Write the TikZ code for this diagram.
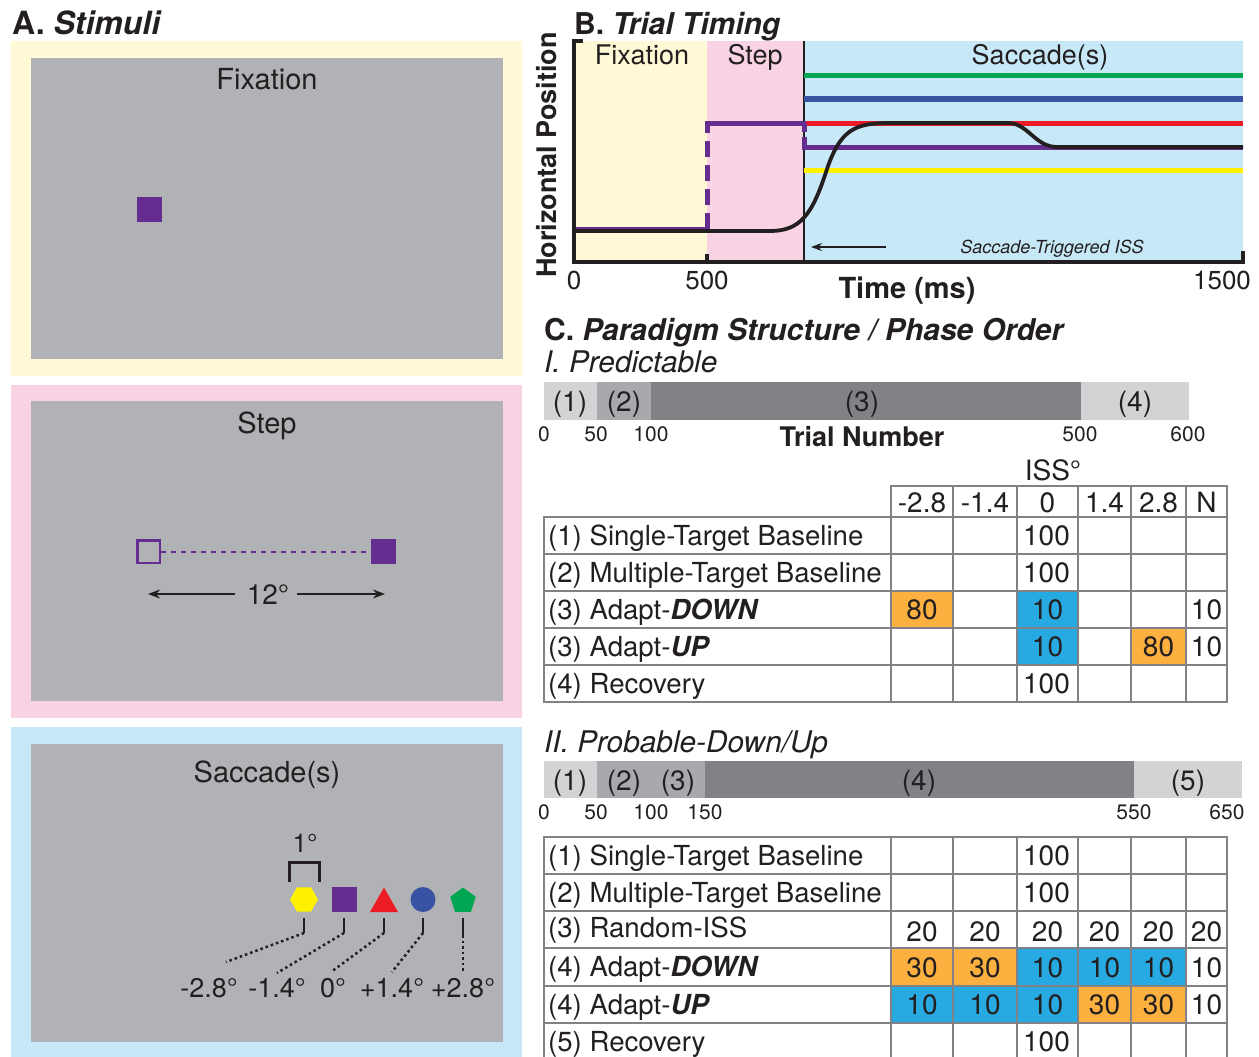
\documentclass[tikz,border=0pt]{standalone}
\usepackage{fontspec}
\setmainfont{TeX Gyre Heros}
\usetikzlibrary{arrows.meta}
\newcommand\fs[1]{\fontsize{#1}{#1}\selectfont}
\definecolor{ink}{HTML}{231F20}
\definecolor{ybg}{HTML}{FFF9D5}
\definecolor{pbg}{HTML}{F9D3E3}
\definecolor{bbg}{HTML}{C7E8F7}
\definecolor{scr}{HTML}{B1B2B5}
\definecolor{purp}{HTML}{662D91}
\definecolor{sred}{HTML}{ED1C24}
\definecolor{sblue}{HTML}{3953A4}
\definecolor{sgreen}{HTML}{00A651}
\definecolor{syel}{HTML}{FFF200}
\definecolor{barL}{HTML}{D1D3D4}
\definecolor{barM}{HTML}{A7A9AC}
\definecolor{barD}{HTML}{808285}
\definecolor{gridc}{HTML}{808285}
\definecolor{corange}{HTML}{FBB040}
\definecolor{cblue}{HTML}{27AAE1}
\begin{document}
\begin{tikzpicture}[x=1pt,y=-1pt,
  T/.style 2 args={font=\fs{#1},text height=#2pt,text depth=0pt,inner sep=0pt,text=ink},
  t18/.style={T={18}{13}},
  t21/.style={T={21}{15.1}},
  t26/.style={T={26}{18.7}},
  t27/.style={T={27}{19.4}},
  trow/.style={T={27.6}{19.9}},
  t28/.style={T={28}{20.2}},
  t29/.style={T={29}{20.9}},
  t30/.style={T={30}{21.6}},
  t32/.style={T={32}{23}},
  gridl/.style={gridc,line width=2.5pt,line cap=rect},
  dotl/.style={ink,line width=2.5pt,dash pattern=on 2.5pt off 3pt},
  tick/.style={ink,line width=2.5pt},
  sq/.style={fill=purp,minimum size=25pt,inner sep=0pt,draw=none},
  arr/.style={-{Stealth[length=12pt,width=9pt]},ink,line width=2pt},
  pline/.style={line width=5pt}
]
\useasboundingbox (0,0) rectangle (1259,1057);
\fill[white] (0,0) rectangle (1259,1057);

%% ---------------- Panel A ----------------
\node[t32,anchor=west] (titleA) at (12,23) {\bfseries A. \itshape Stimuli};
% Fixation
\fill[ybg] (11,41) rectangle (522,376);
\fill[scr] (31,58) rectangle (503,359);
\node[t29] (fixA) at (267,79) {Fixation};
\node[sq] (fixsq) at (149.5,209.5) {};
% Step
\fill[pbg] (11,385) rectangle (522,718);
\fill[scr] (31,401) rectangle (503,701);
\node[t29] (stepA) at (267,423) {Step};
\node[draw=purp,line width=2.5pt,minimum size=22.5pt,inner sep=0pt] (opensq) at (148.5,551.5) {};
\node[sq] (stepsq) at (383.5,551.5) {};
\draw[purp,line width=2pt,dash pattern=on 5pt off 5pt] (opensq.east) -- (stepsq.west);
\node[t28] (deg12) at (268,594) {12°};
\coordinate (larr) at (148,594);
\coordinate (rarr) at (385,594);
\draw[arr] ([xshift=-12pt]deg12.west) -- (larr);
\draw[arr] ([xshift=8pt]deg12.east) -- (rarr);
% Saccade(s)
\fill[bbg] (11,727) rectangle (522,1062);
\fill[scr] (31,744) rectangle (503,1042);
\node[t29] (sacA) at (267,772) {Saccade(s)};
\node[t26] (onedeg) at (305,843) {1°};
\draw[ink,line width=3pt] (289.5,882) -- (289.5,862) -- (319.5,862) -- (319.5,882);
% shapes
\fill[syel] (290,899.5) -- (297,887.4) -- (311,887.4) -- (318,899.5) -- (311,911.6) -- (297,911.6) -- cycle;
\node[sq] (sq0) at (344.5,899.5) {};
\fill[sred] (370,912) -- (398,912) -- (384,887.5) -- cycle;
\fill[sblue] (423,899.5) circle (12.5);
\fill[sgreen] (463,887.5) -- (475.8,896.8) -- (470.9,911.9) -- (455.1,911.9) -- (450.2,896.8) -- cycle;
% ticks and dotted leaders
\draw[tick] (304,918) -- (304,933);
\draw[dotl] (304,933) -- (226,962);
\draw[tick] (344,918) -- (344,933);
\draw[dotl] (344,933) -- (277,973);
\draw[tick] (384,918) -- (384,933);
\draw[dotl] (384,933) -- (331,972);
\draw[tick] (423,918) -- (423,933);
\draw[dotl] (423,933) -- (392,972);
\draw[tick] (463,918) -- (463,935);
\draw[dotl] (463,935) -- (463,972);
\node[t27] (lm28) at (209,988) {-2.8°};
\node[t27] (lm14) at (277,988) {-1.4°};
\node[t27] (l0) at (333,988) {0°};
\node[t27] (lp14) at (392,988) {+1.4°};
\node[t27] (lp28) at (463,988) {+2.8°};

%% ---------------- Panel B ----------------
\node[t30,anchor=west] (titleB) at (574,24) {\bfseries B. \itshape Trial Timing};
\fill[ybg] (574,41) rectangle (707,262);
\fill[pbg] (707,41) rectangle (804,262);
\fill[bbg] (804,41) rectangle (1243,262);
\node[t27] (bfix) at (642,55) {Fixation};
\node[t27] (bstep) at (755,55) {Step};
\node[t27] (bsac) at (1040,55) {Saccade(s)};
\draw[ink,line width=2pt] (804,41) -- (804,262);
\draw[sgreen,pline] (804,76) -- (1243,76);
\draw[sblue,pline] (804,99) -- (1243,99);
\draw[sred,pline] (806,123) -- (1243,123);
\draw[syel,pline] (804,170) -- (1243,170);
\draw[purp,pline] (574,229) -- (707,229);
\draw[purp,pline,dash pattern=on 16pt off 8pt] (707,229) -- (707,123);
\draw[purp,pline] (704.5,123) -- (806,123);
\draw[purp,pline,dash pattern=on 9pt off 5pt] (804,123) -- (804,147);
\draw[purp,pline] (801.5,147) -- (1243,147);
\draw[ink,line width=3.8pt] (574,231) -- (770,231) .. controls (800,231) and (812,215) .. (826,172)
  .. controls (840,129) and (855,123) .. (890,123) -- (1008,123)
  .. controls (1028,123) and (1035,147) .. (1057,147) -- (1243,147);
\draw[ink,line width=3.5pt] (583,41) -- (574,41) -- (574,262) -- (1243,262) -- (1243,251);
\draw[ink,line width=3.5pt] (707,262) -- (707,254);
\node[t18] (sti) at (1052,247) {\itshape Saccade-Triggered ISS};
\coordinate (arrS) at (886,247);
\coordinate (arrE) at (811,247);
\draw[-{Stealth[length=11pt,width=8pt]},ink,line width=2pt] (arrS) -- (arrE);
\node[t26] (bx0) at (574,280) {0};
\node[t26] (bx500) at (707,280) {500};
\node[t26] (bx1500) at (1222,280) {1500};
\node[t29] (btime) at (907,288) {\bfseries Time (ms)};
\node[t27,rotate=90] (bypos) at (547,155) {\bfseries Horizontal Position};

%% ---------------- Panel C ----------------
\node[t30,anchor=west] (titleC) at (544,330) {\bfseries C. \itshape Paradigm Structure / Phase Order};
\node[T={29.8}{21.5},anchor=west] (predI) at (544,362) {\itshape I. Predictable};
% bar I
\fill[barL] (544,382) rectangle (597,420);
\fill[barM] (597,382) rectangle (651,420);
\fill[barD] (651,382) rectangle (1081,420);
\fill[barL] (1081,382) rectangle (1189,420);
\node[t28] (bi1) at (570,401) {(1)};
\node[t28] (bi2) at (624,401) {(2)};
\node[t28] (bi3) at (862,401) {(3)};
\node[t28] (bi4) at (1135,401) {(4)};
\node[t21] (ti0) at (544,434) {0};
\node[t21] (ti50) at (596,434) {50};
\node[t21] (ti100) at (651,434) {100};
\node[t21] (ti500) at (1080,434) {500};
\node[t21] (ti600) at (1188,434) {600};
\node[t27] (trialn) at (862,437) {\bfseries Trial Number};
\node[t28] (iss) at (1053,470) {ISS°};
% table I fills
\fill[corange] (891,591) rectangle (953,628);
\fill[cblue] (1017,591) rectangle (1078,628);
\fill[cblue] (1017,628) rectangle (1078,665);
\fill[corange] (1131,628) rectangle (1186,665);
% table I grid
\draw[gridl] (891,486) -- (1227,486);
\foreach \yy in {517,554,591,628,665,702} \draw[gridl] (544,\yy) -- (1227,\yy);
\foreach \xx in {891,953,1017,1078,1131,1186,1227} \draw[gridl] (\xx,486) -- (\xx,702);
\draw[gridl] (544,517) -- (544,702);
% header
\node[t28] (h1) at (922,502) {-2.8};
\node[t28] (h2) at (985,502) {-1.4};
\node[t28] (h3) at (1047.5,502) {0};
\node[t28] (h4) at (1104.5,502) {1.4};
\node[t28] (h5) at (1158.5,502) {2.8};
\node[t28] (h6) at (1206.5,502) {N};
% rows
\node[trow,anchor=west] (r1) at (548,535.5) {(1) Single-Target Baseline};
\node[trow,anchor=west] (r2) at (548,572.5) {(2) Multiple-Target Baseline};
\node[trow,anchor=west] (r3) at (548,609.5) {(3) Adapt-\textbf{\textit{DOWN}}};
\node[trow,anchor=west] (r4) at (548,646.5) {(3) Adapt-\textbf{\textit{UP}}};
\node[trow,anchor=west] (r5) at (548,683.5) {(4) Recovery};
\node[t28] (v13) at (1046.5,535.5) {100};
\node[t28] (v23) at (1046.5,572.5) {100};
\node[t28] (v31) at (922,609.5) {80};
\node[t28] (v33) at (1047.5,609.5) {10};
\node[t28] (v36) at (1206.5,609.5) {10};
\node[t28] (v43) at (1047.5,646.5) {10};
\node[t28] (v45) at (1158.5,646.5) {80};
\node[t28] (v46) at (1206.5,646.5) {10};
\node[t28] (v53) at (1046.5,683.5) {100};

% part II
\node[T={29.8}{21.5},anchor=west] (probII) at (544,742) {\itshape II. Probable-Down/Up};
\fill[barL] (544,761) rectangle (597,798);
\fill[barM] (597,761) rectangle (651,798);
\fill[barM] (651,761) rectangle (705,798);
\fill[barD] (705,761) rectangle (1134,798);
\fill[barL] (1134,761) rectangle (1242,798);
\node[t28] (bj1) at (570,780) {(1)};
\node[t28] (bj2) at (624,780) {(2)};
\node[t28] (bj3) at (678,780) {(3)};
\node[t28] (bj4) at (919,780) {(4)};
\node[t28] (bj5) at (1188,780) {(5)};
\node[t21] (tj0) at (544,812) {0};
\node[t21] (tj50) at (596,812) {50};
\node[t21] (tj100) at (651,812) {100};
\node[t21] (tj150) at (705,812) {150};
\node[t21] (tj550) at (1134,812) {550};
\node[t21] (tj650) at (1227,812) {650};
% table II fills
\fill[corange] (891,948) rectangle (953,986);
\fill[corange] (953,948) rectangle (1017,986);
\fill[cblue] (1017,948) rectangle (1186,986);
\fill[cblue] (891,986) rectangle (1078,1023);
\fill[corange] (1078,986) rectangle (1186,1023);
% table II grid
\foreach \yy in {837,874,911,948,986,1023} \draw[gridl] (544,\yy) -- (1227,\yy);
\foreach \xx in {544,891,953,1017,1078,1131,1186,1227} \draw[gridl] (\xx,837) -- (\xx,1065);
% rows
\node[trow,anchor=west] (s1) at (548,855.5) {(1) Single-Target Baseline};
\node[trow,anchor=west] (s2) at (548,892.5) {(2) Multiple-Target Baseline};
\node[trow,anchor=west] (s3) at (548,927.5) {(3) Random-ISS};
\node[trow,anchor=west] (s4) at (548,967) {(4) Adapt-\textbf{\textit{DOWN}}};
\node[trow,anchor=west] (s5) at (548,1004.5) {(4) Adapt-\textbf{\textit{UP}}};
\node[trow,anchor=west] (s6) at (548,1041.5) {(5) Recovery};
\node[t28] (w13) at (1046.5,855.5) {100};
\node[t28] (w23) at (1046.5,892.5) {100};
\node[t28] (w31) at (922,931) {20};
\node[t28] (w32) at (985,931) {20};
\node[t28] (w33) at (1047.5,931) {20};
\node[t28] (w34) at (1104.5,931) {20};
\node[t28] (w35) at (1158.5,931) {20};
\node[t28] (w36) at (1206.5,931) {20};
\node[t28] (w41) at (922,967) {30};
\node[t28] (w42) at (985,967) {30};
\node[t28] (w43) at (1047.5,967) {10};
\node[t28] (w44) at (1104.5,967) {10};
\node[t28] (w45) at (1158.5,967) {10};
\node[t28] (w46) at (1206.5,967) {10};
\node[t28] (w51) at (922,1004.5) {10};
\node[t28] (w52) at (985,1004.5) {10};
\node[t28] (w53) at (1047.5,1004.5) {10};
\node[t28] (w54) at (1104.5,1004.5) {30};
\node[t28] (w55) at (1158.5,1004.5) {30};
\node[t28] (w56) at (1206.5,1004.5) {10};
\node[t28] (w63) at (1046.5,1041.5) {100};
\end{tikzpicture}
\end{document}
